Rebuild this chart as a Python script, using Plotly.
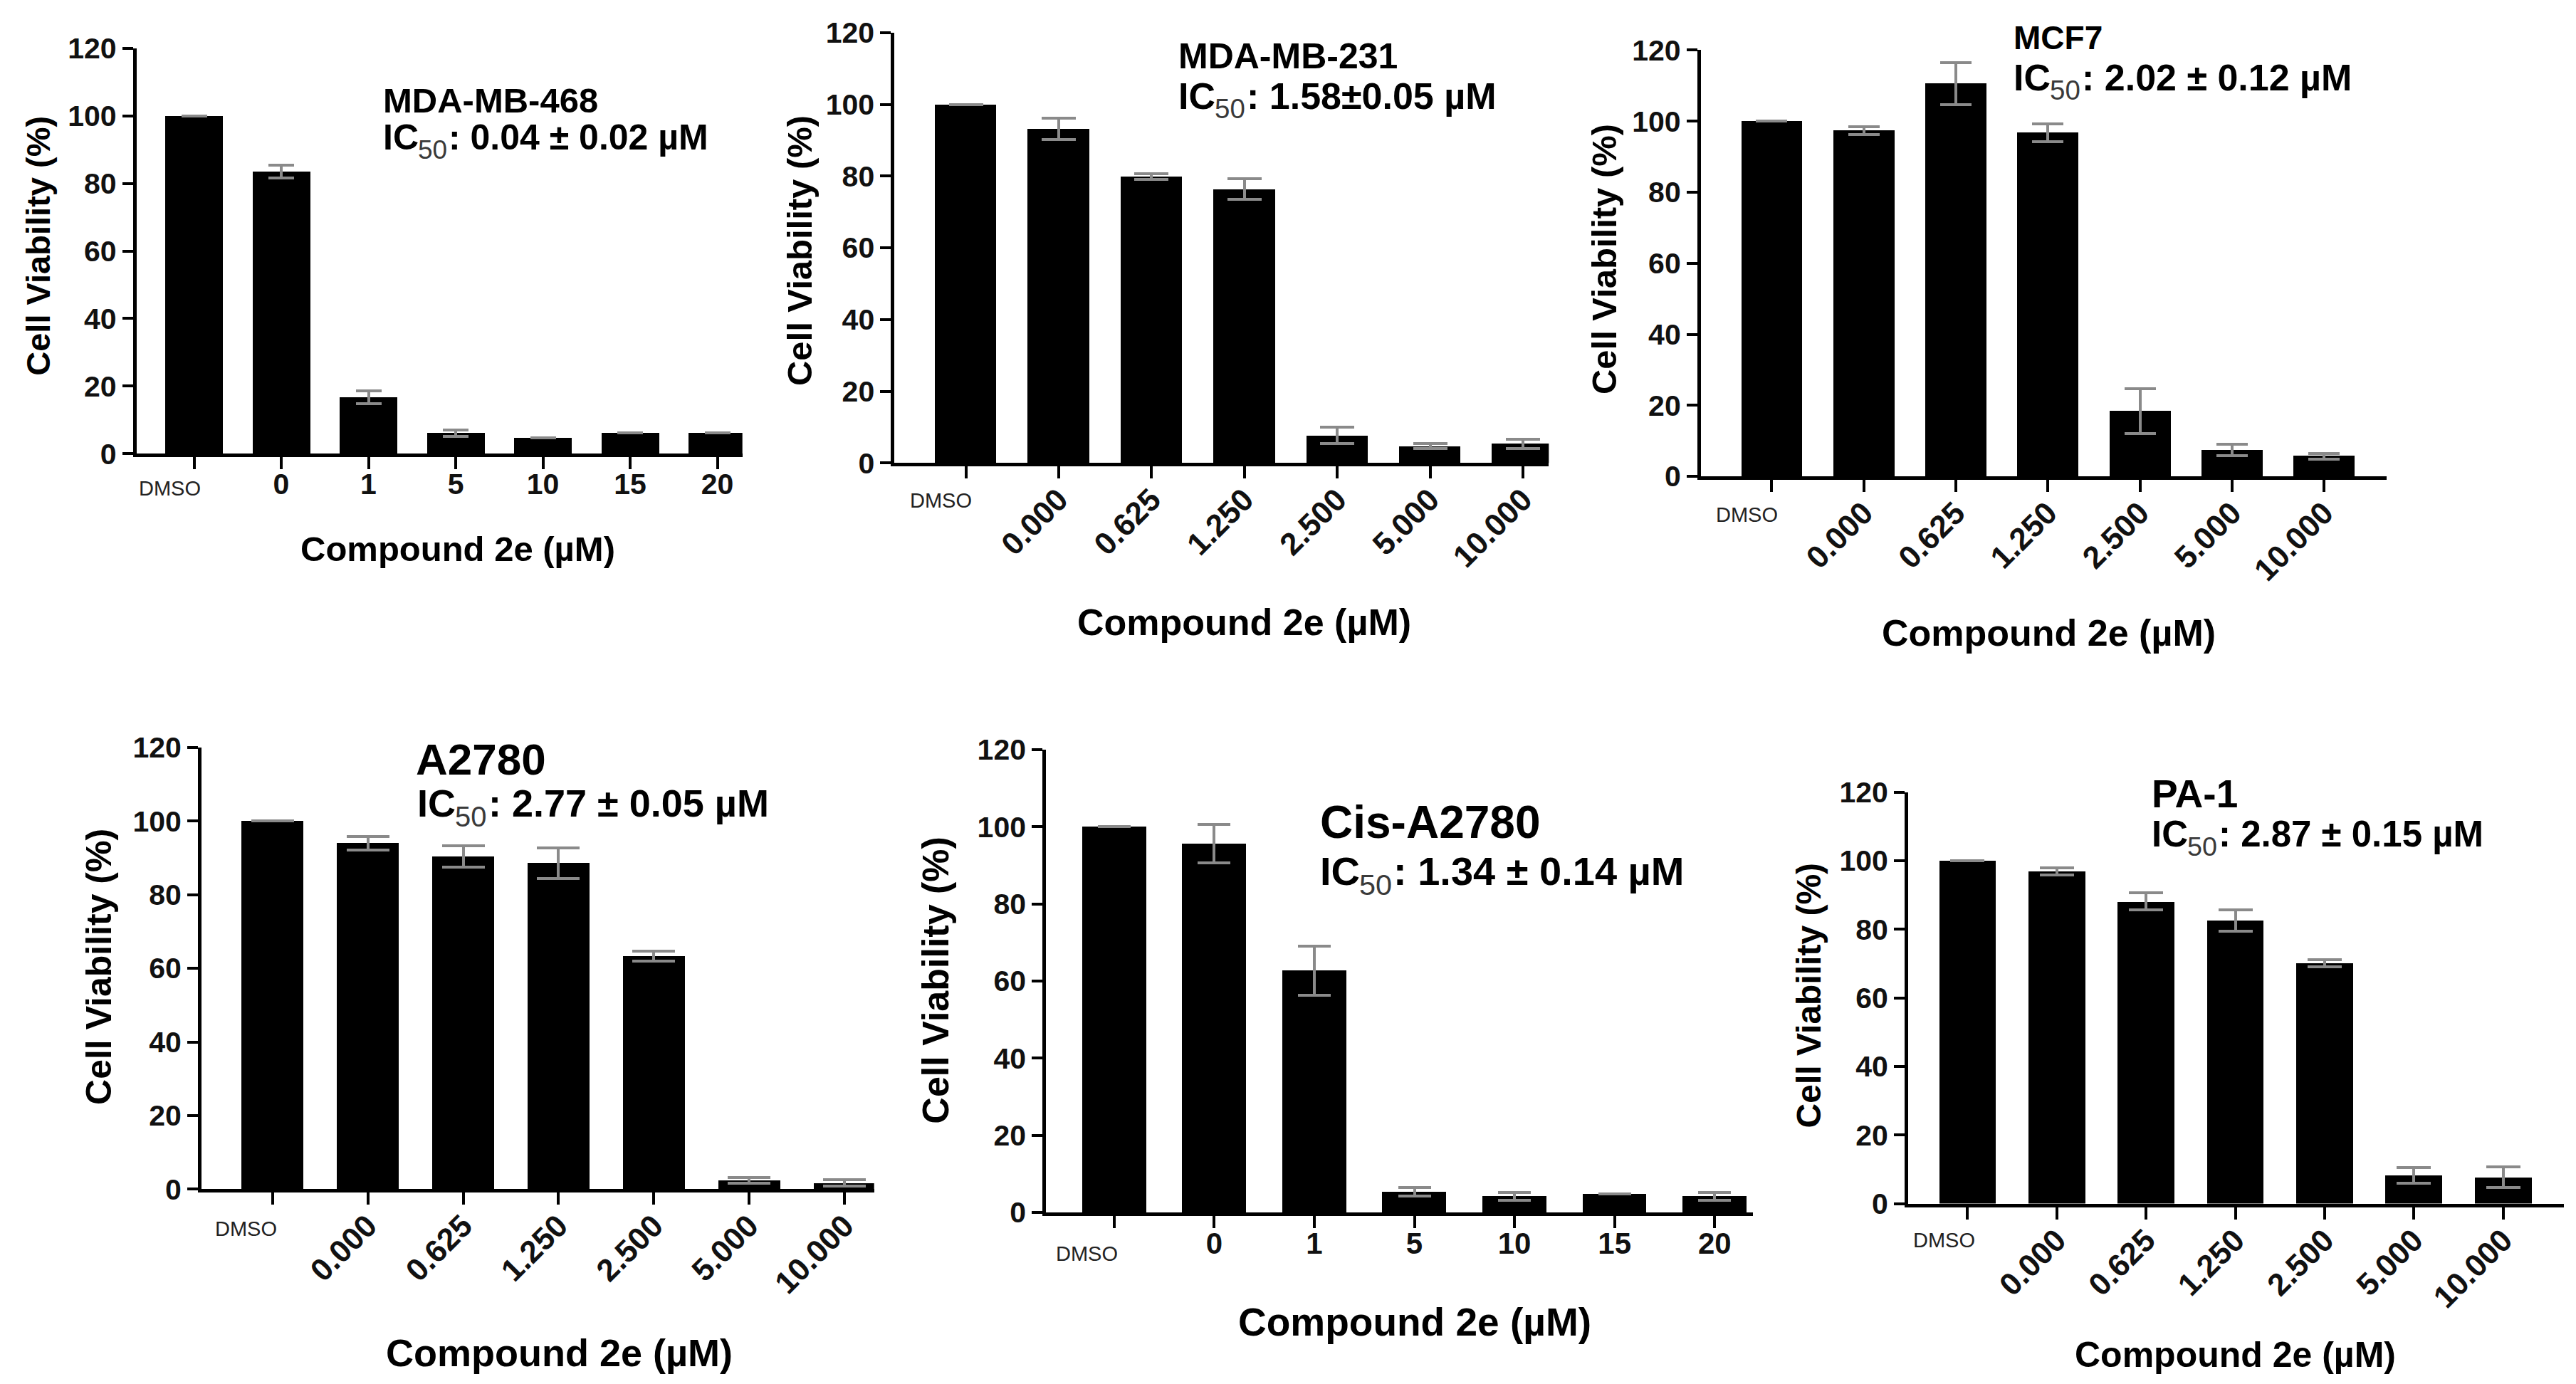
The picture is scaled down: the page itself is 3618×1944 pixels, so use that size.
import plotly.graph_objects as go

W, H = 3618, 1944

# ---------------- data ----------------
labels_int = ["DMSO", "0", "1", "5", "10", "15", "20"]
labels_dec = ["DMSO", "0.000", "0.625", "1.250", "2.500", "5.000", "10.000"]

cell_lines = ["MDA-MB-468", "MDA-MB-231", "MCF7", "A2780", "Cis-A2780", "PA-1"]
ic50_texts = [": 0.04 ± 0.02 µM", ": 1.58±0.05 µM", ": 2.02 ± 0.12 µM",
              ": 2.77 ± 0.05 µM", ": 1.34 ± 0.14 µM", ": 2.87 ± 0.15 µM"]

mb468_val = [100, 83.6, 16.7, 6.1, 4.7, 6.1, 6.1]
mb468_err = [None, 1.9, 2.0, 1.0, None, None, None]

mb231_val = [100, 93.2, 79.9, 76.4, 7.7, 4.7, 5.4]
mb231_err = [None, 3.0, 0.8, 2.9, 2.3, 0.7, 1.3]

mcf7_val = [100, 97.4, 110.5, 96.8, 18.3, 7.4, 5.7]
mcf7_err = [None, 1.1, 5.9, 2.5, 6.3, 1.6, 0.8]

a2780_val = [100, 94.0, 90.4, 88.6, 63.3, 2.4, 1.7]
a2780_err = [None, 1.8, 2.9, 4.2, 1.3, 0.8, 0.8]

cis_val = [100, 95.6, 62.7, 5.3, 4.2, 4.8, 4.2]
cis_err = [None, 5.0, 6.4, 1.1, 1.0, None, 1.0]

pa1_val = [100, 96.9, 88.1, 82.6, 70.1, 8.3, 7.7]
pa1_err = [None, 1.1, 2.5, 3.1, 1.0, 2.3, 3.1]

y_ticks = [0, 20, 40, 60, 80, 100, 120]

# ---------------- layout specs (target pixels) ----------------
panels = [
    dict(vals=mb468_val, errs=mb468_err, labels=labels_int, angle=0, xts=41,
         px=(183.8, 1034.7), py=(68, 637), xr=(-0.659, 6.287), bw=0.659, capw=18,
         title=(527.5, 141, 49), ic=(527.5, 193, 50),
         xt=(635, 771, 49), yt=(45.6, 345, 47), dmso=(-34, -48)),
    dict(vals=mb231_val, errs=mb231_err, labels=labels_dec, angle=-45, xts=44,
         px=(1248.4, 2167.3), py=(45.8, 650.1), xr=(-0.769, 6.279), bw=0.662, capw=24,
         title=(1644.7, 79, 50), ic=(1644.7, 135, 52),
         xt=(1739.4, 874, 52), yt=(1115, 352, 49), dmso=(-35, -51)),
    dict(vals=mcf7_val, errs=mcf7_err, labels=labels_dec, angle=-45, xts=44,
         px=(2380.9, 3344.0), py=(70.4, 668.9), xr=(-0.769, 6.679), bw=0.664, capw=22,
         title=(2817.7, 53, 46), ic=(2817.7, 109, 52),
         xt=(2869, 889, 52), yt=(2245, 364, 49), dmso=(-35, -53)),
    dict(vals=a2780_val, errs=a2780_err, labels=labels_dec, angle=-45, xts=44,
         px=(275.0, 1219.7), py=(1049.5, 1669.8), xr=(-0.744, 6.309), bw=0.654, capw=30,
         title=(574, 1066, 62), ic=(576, 1128, 54),
         xt=(777, 1899, 54), yt=(131.5, 1358, 50), dmso=(-37, -54)),
    dict(vals=cis_val, errs=cis_err, labels=labels_int, angle=0, xts=42,
         px=(1461.2, 2453.7), py=(1052.5, 1702.4), xr=(-0.68, 6.38), bw=0.64, capw=23,
         title=(1843.8, 1155, 64), ic=(1843.8, 1223, 56),
         xt=(1979, 1856, 55), yt=(1305.7, 1376.5, 52), dmso=(-38, -57)),
    dict(vals=pa1_val, errs=pa1_err, labels=labels_dec, angle=-45, xts=44,
         px=(2672.0, 3593.4), py=(1112.2, 1690.0), xr=(-0.665, 6.683), bw=0.636, capw=24,
         title=(3012.4, 1115, 55), ic=(3012.4, 1171, 51),
         xt=(3131.6, 1902, 50), yt=(2532, 1398, 48), dmso=(-33, -50)),
]

# observed vertical mapping of the rendered page: shown_y = 31 + 0.976 * set_y
Y_OFF, Y_SC = 31.0, 0.976


def py_paper(y_target):
    return 1 - ((y_target - Y_OFF) / Y_SC) / H


FONT = "Arial, Liberation Sans, sans-serif"

fig = go.Figure()
layout = dict(width=W, height=H, margin=dict(l=0, r=0, t=0, b=0),
              paper_bgcolor="white", plot_bgcolor="white", showlegend=False,
              bargap=0)
annotations = []

for i, p in enumerate(panels):
    k = "" if i == 0 else str(i + 1)
    xa, ya = "x" + k, "y" + k
    n = len(p["vals"])
    xs = list(range(n))
    fig.add_trace(go.Bar(
        x=xs, y=p["vals"], width=[p["bw"]] * n, xaxis=xa, yaxis=ya,
        marker=dict(color="black", line=dict(width=0)),
        error_y=dict(type="data", array=p["errs"], visible=True,
                     color="#8a8a8a", thickness=4, width=p["capw"]),
        hoverinfo="skip"))

    x0, x1 = p["px"]
    yt_, yb_ = p["py"]
    layout["xaxis" + k] = dict(
        domain=[x0 / W, x1 / W], anchor=ya, range=list(p["xr"]),
        tickmode="array", tickvals=xs[1:], ticktext=p["labels"][1:],
        tickangle=p["angle"], ticklabelstandoff=-14,
        minor=dict(tickmode="array", tickvals=[0], ticks="outside", ticklen=17,
                   tickwidth=4, tickcolor="black", showgrid=False),
        showline=True, linecolor="black", linewidth=5, ticks="outside",
        ticklen=17, tickwidth=4, tickcolor="black", showgrid=False, zeroline=False,
        tickfont=dict(family=FONT, size=p["xts"], color="#111", weight="bold"),
        fixedrange=True)
    layout["yaxis" + k] = dict(
        domain=[py_paper(yb_), py_paper(yt_)], anchor=xa, range=[0, 120],
        tickmode="array", tickvals=y_ticks,
        showline=True, linecolor="black", linewidth=5, ticks="outside",
        ticklen=15, tickwidth=4, tickcolor="black", showgrid=False, zeroline=False,
        tickfont=dict(family=FONT, size=41, color="#111", weight="bold"),
        fixedrange=True)

    # DMSO label (horizontal, smaller)
    annotations.append(dict(
        x=0, y=0, xref=xa, yref=ya + " domain", text="DMSO", showarrow=False,
        xanchor="center", yanchor="middle", xshift=p["dmso"][0],
        yshift=p["dmso"][1] / Y_SC,
        font=dict(family=FONT, size=29, color="#222")))

    # panel title
    tx, ty, ts = p["title"]
    annotations.append(dict(
        x=tx / W, y=py_paper(ty), xref="paper", yref="paper", text=cell_lines[i],
        showarrow=False, xanchor="left", yanchor="middle",
        font=dict(family=FONT, size=ts, color="black", weight="bold")))

    # IC50 line: "IC", subscript "50", remainder
    ix, iy, s = p["ic"]
    ss = 0.74 * s
    annotations.append(dict(
        x=ix / W, y=py_paper(iy), xref="paper", yref="paper", text="IC",
        showarrow=False, xanchor="left", yanchor="middle",
        font=dict(family=FONT, size=s, color="black", weight="bold")))
    sx = ix + 0.98 * s
    annotations.append(dict(
        x=sx / W, y=py_paper(iy + 0.34 * s), xref="paper", yref="paper", text="50",
        showarrow=False, xanchor="left", yanchor="middle",
        font=dict(family=FONT, size=ss, color="#3a3a3a")))
    rx = sx + 2 * 0.556 * ss + 0.04 * s
    annotations.append(dict(
        x=rx / W, y=py_paper(iy), xref="paper", yref="paper", text=ic50_texts[i],
        showarrow=False, xanchor="left", yanchor="middle",
        font=dict(family=FONT, size=s, color="black", weight="bold")))

    # axis titles
    xtx, xty, xsz = p["xt"]
    annotations.append(dict(
        x=xtx / W, y=py_paper(xty), xref="paper", yref="paper",
        text="Compound 2e (µM)", showarrow=False, xanchor="center", yanchor="middle",
        font=dict(family=FONT, size=xsz, color="black", weight="bold")))
    ytx, yty, ysz = p["yt"]
    annotations.append(dict(
        x=ytx / W, y=py_paper(yty), xref="paper", yref="paper",
        text="Cell Viability (%)", showarrow=False, textangle=-90,
        xanchor="center", yanchor="middle",
        font=dict(family=FONT, size=ysz, color="black", weight="bold")))

layout["annotations"] = annotations
fig.update_layout(**layout)
fig.write_html("out.html")
